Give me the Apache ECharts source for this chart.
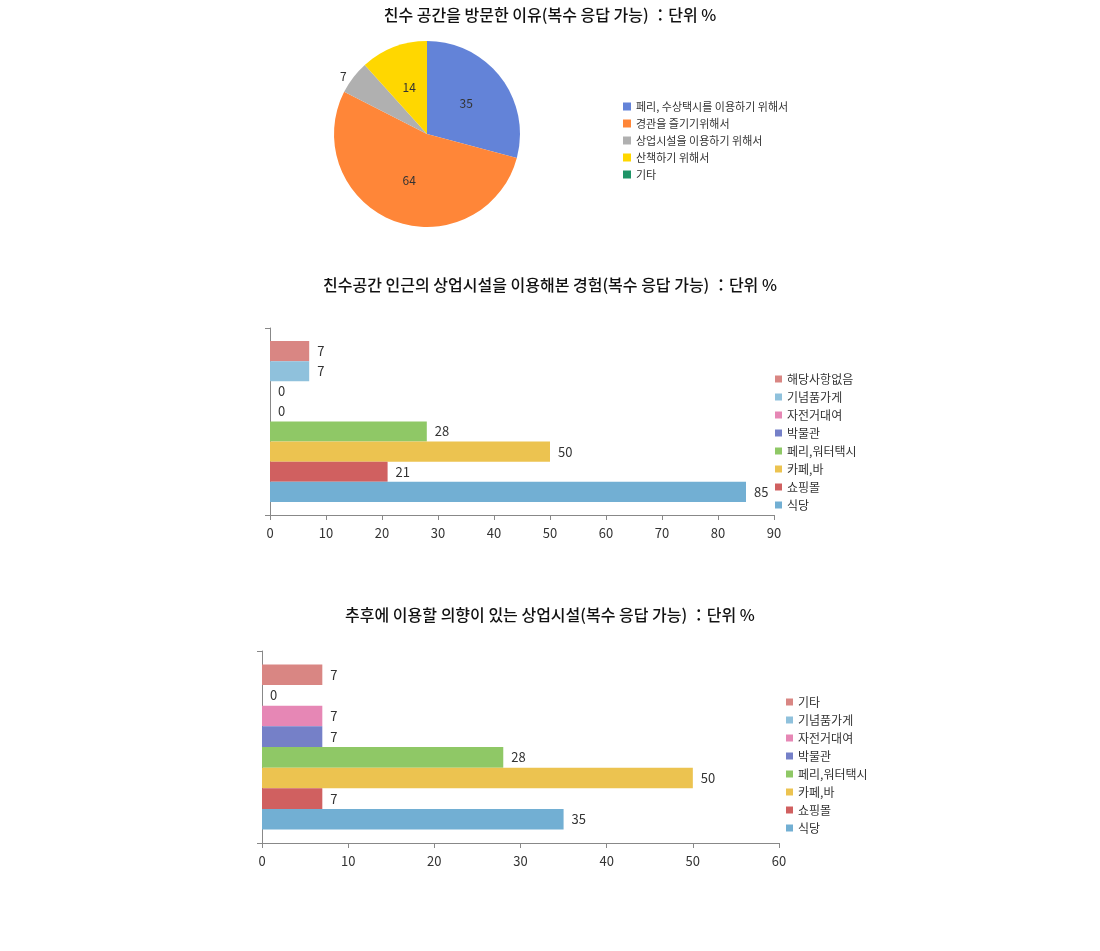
<!DOCTYPE html>
<html><head><meta charset="utf-8">
<script src="https://cdn.jsdelivr.net/npm/echarts@6/dist/echarts.min.js"></script>
<style>
body{margin:0;background:#fff;}
.c{position:absolute;left:0;width:1100px;}
</style></head>
<body>
<div id="c1" class="c" style="top:0;height:260px"></div>
<div id="c2" class="c" style="top:270px;height:300px"></div>
<div id="c3" class="c" style="top:600px;height:300px"></div>
<script>
var font = "'Noto Sans CJK KR', sans-serif";

// 방문 이유
var pieNames = ['페리, 수상택시를 이용하기 위해서','경관을 즐기기위해서','상업시설을 이용하기 위해서','산책하기 위해서','기타'];
var pieValues = [35, 64, 7, 14, 0];
var pieColors = ['#6383d8','#ff8638','#b0b0b0','#ffd700','#1e9467'];

// 이용 경험 (위에서 아래 순)
var names2 = ['해당사항없음','기념품가게','자전거대여','박물관','페리,워터택시','카페,바','쇼핑몰','식당'];
var values2 = [7, 7, 0, 0, 28, 50, 21, 85];
// 이용 의향
var names3 = ['기타','기념품가게','자전거대여','박물관','페리,워터택시','카페,바','쇼핑몰','식당'];
var values3 = [7, 0, 7, 7, 28, 50, 7, 35];
var barColors = ['#d98683','#8fc1dc','#e687b5','#7580c8','#8fc866','#ecc350','#d06060','#72afd3'];

var t1 = '친수 공간을 방문한 이유(복수 응답 가능) ：단위 %';
var t2 = '친수공간 인근의 상업시설을 이용해본 경험(복수 응답 가능) ：단위 %';
var t3 = '추후에 이용할 의향이 있는 상업시설(복수 응답 가능) ：단위 %';

function titleOpt(text){
	return {text:text, left:'center', top:2, textStyle:{fontFamily:font, fontSize:16, fontWeight:500, color:'#111'}};
}

var chart1 = echarts.init(document.getElementById('c1'));
var pieData = [];
for (var i = 0; i < pieNames.length; i++) {
	var d = {name:pieNames[i], value:pieValues[i], itemStyle:{color:pieColors[i]}};
	if (pieValues[i] == 7) d.label = {position:'outside'};
	if (pieValues[i] == 0) d.label = {show:false};
	pieData.push(d);
}
chart1.setOption({
	title: titleOpt(t1),
	legend: {orient:'vertical', left:618, top:96, itemWidth:8, itemHeight:8, itemGap:6, icon:'rect',
		textStyle:{fontFamily:font, fontSize:11, color:'#333'}, data:pieNames},
	series: [{
		type:'pie', center:[427,134], radius:93, startAngle:90, animation:false,
		labelLine:{show:false, length:2, length2:0},
		label:{position:'inside', formatter:'{c}', fontFamily:font, fontSize:12, color:'#333'},
		data: pieData
	}]
});

function barOpt(title, names, values, max, grid, legendPos){
	var series = [];
	for (var i = 0; i < names.length; i++) {
		series.push({
			name:names[i], type:'bar', data:[values[i]], barGap:'0%', barCategoryGap:'14%',
			itemStyle:{color:barColors[i]},
			label:{show:true, position:'right', distance:8, fontFamily:font, fontSize:13, color:'#333'}
		});
	}
	return {
		animation:false,
		title: titleOpt(title),
		legend: {orient:'vertical', left:legendPos[0], top:legendPos[1], itemWidth:7, itemHeight:7, itemGap:6, icon:'rect',
			textStyle:{fontFamily:font, fontSize:12, color:'#333'}, data:names},
		grid: grid,
		xAxis: {type:'value', min:0, max:max, interval:10, splitLine:{show:false},
			axisLine:{show:true, lineStyle:{color:'#888'}}, axisTick:{show:true, lineStyle:{color:'#888'}},
			axisLabel:{fontFamily:font, fontSize:13, color:'#333', margin:12}},
		yAxis: {type:'category', data:[''], axisLine:{lineStyle:{color:'#888'}},
			axisTick:{show:true, alignWithLabel:false, lineStyle:{color:'#888'}}, axisLabel:{show:false}},
		series: series
	};
}

var chart2 = echarts.init(document.getElementById('c2'));
chart2.setOption(barOpt(t2, names2, values2, 90, {left:270, width:504, top:58, height:187}, [770, 98]));
var chart3 = echarts.init(document.getElementById('c3'));
chart3.setOption(barOpt(t3, names3, values3, 60, {left:262, width:517, top:51, height:192}, [781, 91]));
</script>
</body></html>
